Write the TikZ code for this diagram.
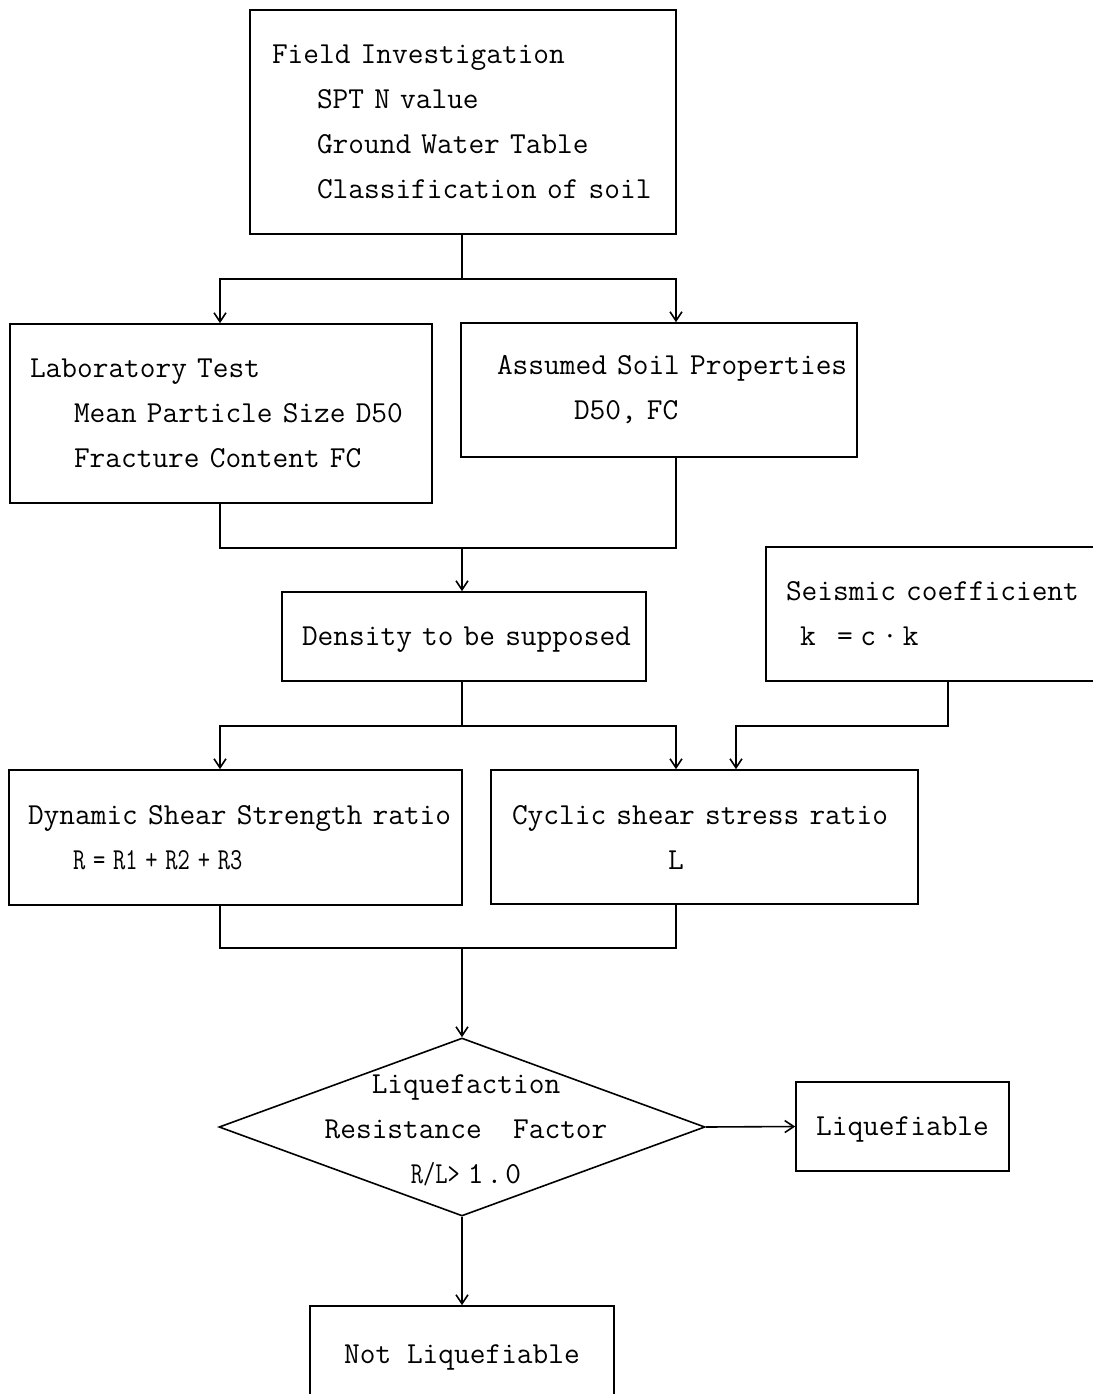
\documentclass[tikz,border=0pt]{standalone}
\usepackage{graphicx}
\usepackage{fontspec}
\setmonofont{Latin Modern Mono}
\usetikzlibrary{shapes.geometric,arrows.meta}
\tikzset{
	>={Straight Barb[length=9pt,width=12pt]},
	box/.style={draw, rectangle, line width=1.6pt, align=left, inner ysep=0pt,
		font=\ttfamily\fontsize{30.5}{45}\selectfont},
	decision/.style={draw, diamond, line width=1.6pt, inner sep=0pt,
		minimum width=486pt, minimum height=178pt},
	wire/.style={line width=1.6pt}
}
\begin{document}
\begin{tikzpicture}[x = 1pt, y = -1pt]
	\useasboundingbox (0,0) rectangle (1092,1394);
	% boxes
	\node[box, inner xsep=22pt, text width=382pt, minimum height=224pt] (field) at (463,122)
	{Field Investigation\\\hspace*{45pt}SPT N value\\\hspace*{45pt}Ground Water Table\\\hspace*{45pt}Classification~of~soil};
	\node[box, inner xsep=20pt, text width=382pt, minimum height=179pt] (lab) at (221,413.5)
	{Laboratory Test\\\hspace*{44pt}Mean~Particle~Size~D50\\\hspace*{44pt}Fracture Content FC};
	\node[box, inner xsep=36pt, text width=324pt, minimum height=134pt] (assumed) at (659,390)
	{Assumed~Soil~Properties\\\hspace*{77pt}D50, FC};
	\node[box, inner xsep=20pt, text width=324pt, minimum height=89pt, text depth=0pt] (density) at (464,636.5)
	{Density~to~be~supposed};
	\node[box, inner xsep=20pt, text width=324pt, minimum height=134pt] (seismic) at (948,614)
	{Seismic~coefficient\\\hspace*{14pt}k\hspace*{21.5pt}=\hspace*{7.5pt}c\hspace*{6pt}\textperiodcentered\hspace*{5pt}k};
	\node[box, inner xsep=19pt, text width=415pt, minimum height=135pt] (dynamic) at (235.5,837.5)
	{Dynamic~Shear~Strength~ratio\\\hspace*{45pt}\scalebox{0.78}[1]{R\hspace*{10pt}=\hspace*{10pt}R1\hspace*{10pt}+\hspace*{10pt}R2\hspace*{10pt}+\hspace*{10pt}R3}};
	\node[box, inner xsep=21pt, text width=385pt, minimum height=134pt] (cyclic) at (704.5,837)
	{Cyclic~shear~stress~ratio\\\hspace*{156pt}L};
	\node[decision] (check) at (462,1127) {};
	\node[font=\ttfamily\fontsize{30.5}{45}\selectfont, align=center, inner sep=0pt] (checktext) at (466,1130)
	{Liquefaction\\Resistance~~Factor\\\scalebox{0.78}[1]{R/L>}\hspace*{8pt}1\hspace*{3pt}.\hspace*{3pt}0};
	\node[box, minimum width=213pt, minimum height=89pt, text depth=0pt] (liq) at (902.5,1126.5) {Liquefiable};
	\node[box, minimum width=304pt, minimum height=96pt, text depth=0pt] (notliq) at (462,1354) {Not Liquefiable};
	% connector columns
	\coordinate (colL) at (220,0);
	\coordinate (colR) at (676,0);
	\coordinate (colS) at (736,0);
	\coordinate (fork1) at (462,279);
	\coordinate (join1) at (462,548);
	\coordinate (fork2) at (462,726);
	\coordinate (join2) at (462,948);
	% connectors
	\draw[wire] (field.south -| fork1) -- (fork1);
	\draw[wire, <->] (lab.north -| colL) |- (fork1) -| (assumed.north -| colR);
	\draw[wire] (lab.south -| colL) |- (join1) -| (assumed.south -| colR);
	\draw[wire, ->] (join1) -- (density.north -| join1);
	\draw[wire] (density.south -| fork2) -- (fork2);
	\draw[wire, <->] (dynamic.north -| colL) |- (fork2) -| (cyclic.north -| colR);
	\draw[wire, ->] (seismic.south) |- (colS |- fork2) -- (cyclic.north -| colS);
	\draw[wire] (dynamic.south -| colL) |- (join2) -| (cyclic.south -| colR);
	\draw[wire, ->] (join2) -- (check.north);
	\draw[wire, ->] (check.east) -- (liq.west);
	\draw[wire, ->] (check.south) -- (notliq.north);
\end{tikzpicture}
\end{document}
